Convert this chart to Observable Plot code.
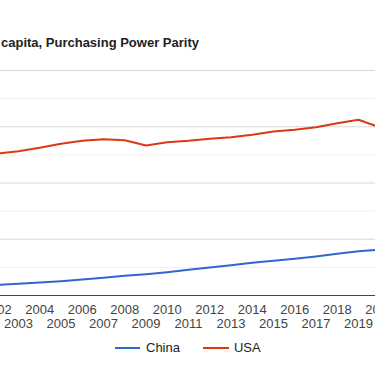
<!DOCTYPE html>
<html>
<head>
<meta charset="utf-8">
<script src="https://cdn.jsdelivr.net/npm/d3@7"></script>
<script src="https://cdn.jsdelivr.net/npm/@observablehq/plot@0.6"></script>
<style>
  html, body { margin: 0; padding: 0; background: #fff; overflow: hidden; }
  body { width: 375px; height: 366px; font-family: "Liberation Sans", Arial, sans-serif; }
  .title { height: 60px; box-sizing: border-box; padding-top: 35px; padding-left: 1px; font-weight: bold; font-size: 13px; line-height: 15px; color: #222; white-space: nowrap; }
  .legend { height: 25px; display: flex; align-items: center; padding-left: 115px; font-size: 13px; color: #222; }
  .sw { display: inline-block; height: 2px; }
</style>
</head>
<body>
<div class="title" id="title"></div>
<div id="chart"></div>
<div class="legend" id="legend"></div>
<script>
const titleText = "capita, Purchasing Power Parity";
const years = [2002, 2003, 2004, 2005, 2006, 2007, 2008, 2009, 2010, 2011, 2012, 2013, 2014, 2015, 2016, 2017, 2018, 2019, 2020];
const china = [3730, 4160, 4620, 5080, 5690, 6350, 7000, 7570, 8280, 9140, 9960, 10770, 11630, 12340, 13050, 13870, 14830, 15750, 16250];
const usa = [50450, 51310, 52520, 53940, 55000, 55570, 55220, 53330, 54510, 55000, 55720, 56290, 57140, 58310, 58920, 59840, 61260, 62470, 59800];
const seriesNames = ["China", "USA"];
const seriesColors = ["#3366cc", "#dc3912"];
const evenTicks = [2002, 2004, 2006, 2008, 2010, 2012, 2014, 2016, 2018, 2020];
const oddTicks = [2003, 2005, 2007, 2009, 2011, 2013, 2015, 2017, 2019];
const majorGrid = [20000, 40000, 60000, 80000];
const minorGrid = [10000, 30000, 50000, 70000];

document.getElementById("title").textContent = titleText;

const rows = [];
years.forEach((y, i) => {
  rows.push({year: y, value: china[i], series: seriesNames[0]});
  rows.push({year: y, value: usa[i], series: seriesNames[1]});
});

const chart = Plot.plot({
  width: 375,
  height: 275,
  marginLeft: 0,
  marginRight: 0,
  marginTop: 10,
  marginBottom: 40,
  style: {fontFamily: "'Liberation Sans', Arial, sans-serif", fontSize: "13px", background: "transparent", overflow: "visible"},
  x: {domain: [2002.153, 2019.8], axis: null},
  y: {domain: [0, 80000], axis: null},
  color: {domain: seriesNames, range: seriesColors},
  marks: [
    Plot.ruleY(minorGrid, {stroke: "#efefef", strokeWidth: 1}),
    Plot.ruleY(majorGrid, {stroke: "#d8d8d8", strokeWidth: 1}),
    Plot.line(rows, {x: "year", y: "value", z: "series", stroke: "series", strokeWidth: 2, clip: true}),
    Plot.ruleY([0], {stroke: "#444", strokeWidth: 1}),
    Plot.text(evenTicks, {x: d => d, text: d => String(d), frameAnchor: "bottom", lineAnchor: "middle", dy: 14, fill: "#444", fontSize: 13}),
    Plot.text(oddTicks, {x: d => d, text: d => String(d), frameAnchor: "bottom", lineAnchor: "middle", dy: 28, fill: "#444", fontSize: 13})
  ]
});
document.getElementById("chart").appendChild(chart);

const legend = document.getElementById("legend");
const gaps = [[25, 6, 23], [26, 5, 0]];
seriesNames.forEach((name, i) => {
  const sw = document.createElement("span");
  sw.className = "sw";
  sw.style.width = gaps[i][0] + "px";
  sw.style.background = seriesColors[i];
  sw.style.marginRight = gaps[i][1] + "px";
  const t = document.createElement("span");
  t.textContent = name;
  t.style.marginRight = gaps[i][2] + "px";
  legend.appendChild(sw);
  legend.appendChild(t);
});
</script>
</body>
</html>
